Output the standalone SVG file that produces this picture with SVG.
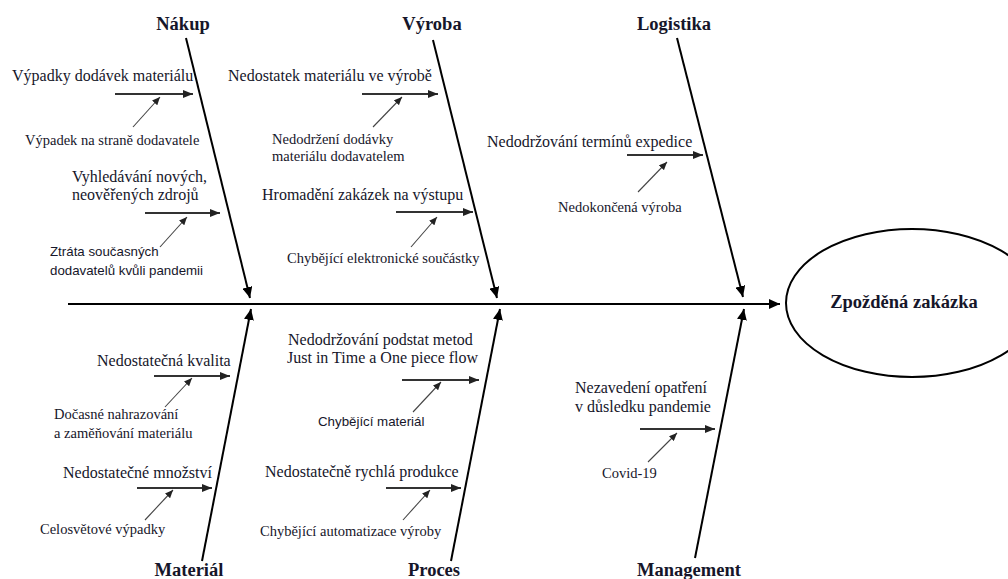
<svg xmlns="http://www.w3.org/2000/svg" width="1008" height="579" viewBox="0 0 1008 579">
  <defs>
    <marker id="headMain" markerUnits="userSpaceOnUse" markerWidth="12" markerHeight="10" refX="11" refY="5" orient="auto">
      <path d="M0,0 L11,5 L0,10 Z" fill="#000"/>
    </marker>
    <marker id="headCause" markerUnits="userSpaceOnUse" markerWidth="11" markerHeight="8" refX="10" refY="4" orient="auto">
      <path d="M0,0 L10,4 L0,8 Z" fill="#222"/>
    </marker>
    <marker id="headSub" markerUnits="userSpaceOnUse" markerWidth="9" markerHeight="7" refX="8" refY="3.5" orient="auto">
      <path d="M0,0 L8,3.5 L0,7 Z" fill="#222"/>
    </marker>
    <style>
      text { fill: #16162a; }
      .cat { font-family: "Liberation Serif", "Times New Roman", serif; font-weight: bold; font-size: 18.5px; text-anchor: middle; }
      .cause { font-family: "Liberation Serif", "Times New Roman", serif; font-size: 16px; }
      .sub { font-family: "Liberation Serif", "Times New Roman", serif; font-size: 14.5px; }
      .subs { font-family: "Liberation Sans", Arial, sans-serif; font-size: 13.3px; }
      .effect { font-family: "Liberation Serif", "Times New Roman", serif; font-weight: bold; font-size: 18.5px; text-anchor: middle; }
      .spine { stroke: #000; stroke-width: 2.2; fill: none; }
      .bone { stroke: #000; stroke-width: 2; fill: none; }
      .cline { stroke: #333; stroke-width: 2; fill: none; }
      .sline { stroke: #444; stroke-width: 1.1; fill: none; }
    </style>
  </defs>

  <rect width="1008" height="579" fill="#fff"/>

  <!-- connectors: spine, category bones, cause arrows, sub-cause arrows -->
  <g id="connectors">
    <line class="spine" x1="68" y1="304" x2="780" y2="304" marker-end="url(#headMain)"/>

    <line class="bone" x1="186" y1="38" x2="250" y2="298" marker-end="url(#headMain)"/>
    <line class="bone" x1="433" y1="40" x2="497" y2="298" marker-end="url(#headMain)"/>
    <line class="bone" x1="677" y1="38" x2="743" y2="297" marker-end="url(#headMain)"/>
    <line class="bone" x1="202" y1="561" x2="251" y2="309" marker-end="url(#headMain)"/>
    <line class="bone" x1="451" y1="561" x2="500" y2="309" marker-end="url(#headMain)"/>
    <line class="bone" x1="695" y1="558" x2="744" y2="309" marker-end="url(#headMain)"/>

    <line class="cline" x1="115" y1="94" x2="193" y2="94" marker-end="url(#headCause)"/>
    <line class="cline" x1="145" y1="213" x2="220" y2="213" marker-end="url(#headCause)"/>
    <line class="cline" x1="362" y1="94" x2="438" y2="94" marker-end="url(#headCause)"/>
    <line class="cline" x1="396" y1="212" x2="473" y2="212" marker-end="url(#headCause)"/>
    <line class="cline" x1="627" y1="155" x2="703" y2="155" marker-end="url(#headCause)"/>
    <line class="cline" x1="154" y1="376" x2="230" y2="376" marker-end="url(#headCause)"/>
    <line class="cline" x1="137" y1="488" x2="212" y2="488" marker-end="url(#headCause)"/>
    <line class="cline" x1="402" y1="380" x2="479" y2="380" marker-end="url(#headCause)"/>
    <line class="cline" x1="386" y1="488" x2="461" y2="488" marker-end="url(#headCause)"/>
    <line class="cline" x1="640" y1="429" x2="715" y2="429" marker-end="url(#headCause)"/>

    <line class="sline" x1="133" y1="127" x2="160" y2="97" marker-end="url(#headSub)"/>
    <line class="sline" x1="160" y1="247" x2="187" y2="217" marker-end="url(#headSub)"/>
    <line class="sline" x1="373" y1="127" x2="402" y2="97" marker-end="url(#headSub)"/>
    <line class="sline" x1="411" y1="247" x2="437" y2="217" marker-end="url(#headSub)"/>
    <line class="sline" x1="638" y1="192" x2="667" y2="162" marker-end="url(#headSub)"/>
    <line class="sline" x1="165" y1="407" x2="192" y2="378" marker-end="url(#headSub)"/>
    <line class="sline" x1="145" y1="520" x2="173" y2="490" marker-end="url(#headSub)"/>
    <line class="sline" x1="413" y1="412" x2="441" y2="382" marker-end="url(#headSub)"/>
    <line class="sline" x1="403" y1="520" x2="430" y2="490" marker-end="url(#headSub)"/>
    <line class="sline" x1="648" y1="462" x2="677" y2="433" marker-end="url(#headSub)"/>
  </g>

  <!-- effect -->
  <g id="effect">
    <ellipse cx="912" cy="303" rx="126" ry="74" fill="#fff" stroke="#000" stroke-width="2"/>
    <text class="effect" x="904" y="308">Zpožděná zakázka</text>
  </g>

  <!-- categories -->
  <g id="cat-nakup"><text class="cat" x="183" y="30">Nákup</text></g>
  <g id="cat-vyroba"><text class="cat" x="432" y="30">Výroba</text></g>
  <g id="cat-logistika"><text class="cat" x="674" y="30">Logistika</text></g>
  <g id="cat-material"><text class="cat" x="189" y="576">Materiál</text></g>
  <g id="cat-proces"><text class="cat" x="434" y="576">Proces</text></g>
  <g id="cat-management"><text class="cat" x="689" y="576">Management</text></g>

  <!-- causes: Nákup -->
  <g id="cause-vypadky">
    <text class="cause" x="12" y="81">Výpadky dodávek materiálu</text>
  </g>
  <g id="sub-vypadek">
    <text class="sub" x="25" y="145">Výpadek na straně dodavatele</text>
  </g>
  <g id="cause-vyhledavani">
    <text class="cause" x="72" y="182">Vyhledávání nových,</text>
    <text class="cause" x="72" y="200">neověřených zdrojů</text>
  </g>
  <g id="sub-ztrata">
    <text class="subs" x="50" y="256">Ztráta současných</text>
    <text class="subs" x="50" y="275">dodavatelů kvůli pandemii</text>
  </g>

  <!-- causes: Výroba -->
  <g id="cause-nedostatek">
    <text class="cause" x="228" y="81">Nedostatek materiálu ve výrobě</text>
  </g>
  <g id="sub-nedodrzeni">
    <text class="sub" x="272" y="144">Nedodržení dodávky</text>
    <text class="sub" x="272" y="161">materiálu dodavatelem</text>
  </g>
  <g id="cause-hromadeni">
    <text class="cause" x="262" y="200">Hromadění zakázek na výstupu</text>
  </g>
  <g id="sub-elektronika">
    <text class="sub" x="287" y="263">Chybějící elektronické součástky</text>
  </g>

  <!-- causes: Logistika -->
  <g id="cause-terminy">
    <text class="cause" x="487" y="147">Nedodržování termínů expedice</text>
  </g>
  <g id="sub-nedokoncena">
    <text class="sub" x="558" y="212">Nedokončená výroba</text>
  </g>

  <!-- causes: Materiál -->
  <g id="cause-kvalita">
    <text class="cause" x="97" y="366">Nedostatečná kvalita</text>
  </g>
  <g id="sub-nahrazovani">
    <text class="sub" x="54" y="419">Dočasné nahrazování</text>
    <text class="sub" x="54" y="438">a zaměňování materiálu</text>
  </g>
  <g id="cause-mnozstvi">
    <text class="cause" x="63" y="478">Nedostatečné množství</text>
  </g>
  <g id="sub-celosvetove">
    <text class="sub" x="40" y="534">Celosvětové výpadky</text>
  </g>

  <!-- causes: Proces -->
  <g id="cause-metody">
    <text class="cause" x="288" y="345">Nedodržování podstat metod</text>
    <text class="cause" x="287" y="363">Just in Time a One piece flow</text>
  </g>
  <g id="sub-chybejici-material">
    <text class="subs" x="318" y="426">Chybějící materiál</text>
  </g>
  <g id="cause-produkce">
    <text class="cause" x="265" y="477">Nedostatečně rychlá produkce</text>
  </g>
  <g id="sub-automatizace">
    <text class="sub" x="260" y="536">Chybějící automatizace výroby</text>
  </g>

  <!-- causes: Management -->
  <g id="cause-opatreni">
    <text class="cause" x="575" y="393">Nezavedení opatření</text>
    <text class="cause" x="575" y="412">v důsledku pandemie</text>
  </g>
  <g id="sub-covid">
    <text class="sub" x="602" y="478">Covid-19</text>
  </g>
</svg>
